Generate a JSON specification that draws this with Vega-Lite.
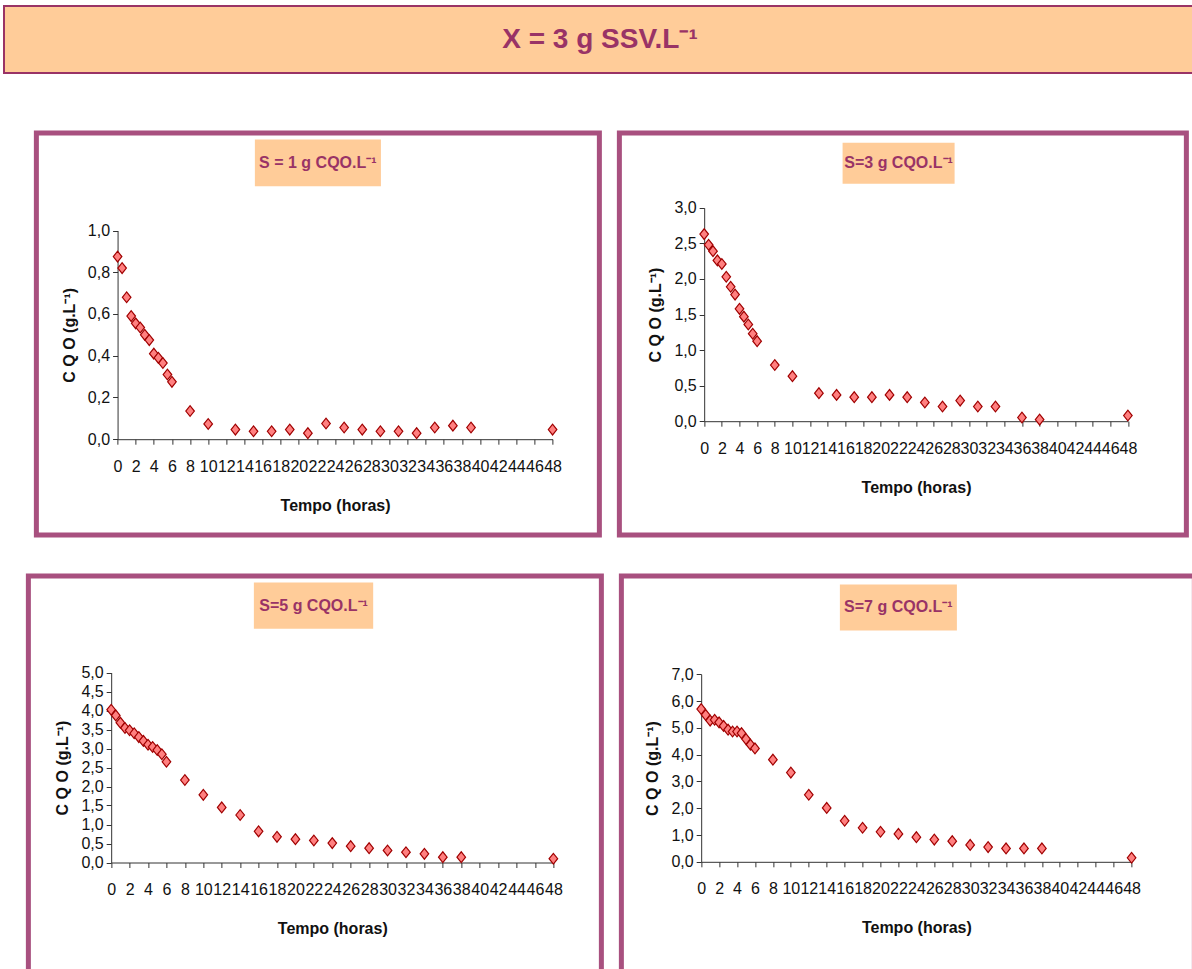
{
  "$schema": "https://vega.github.io/schema/vega-lite/v6.json",
  "background": "white",
  "padding": {"left": 3, "top": 5, "right": 0, "bottom": 0},
  "autosize": {"type": "pad"},
  "spacing": 56,
  "center": true,
  "datasets": {
    "s1": [
      {"t": 0, "cqo": 0.875}, {"t": 0.5, "cqo": 0.82}, {"t": 1, "cqo": 0.68}, {"t": 1.5, "cqo": 0.59},
      {"t": 2, "cqo": 0.555}, {"t": 2.5, "cqo": 0.535}, {"t": 3, "cqo": 0.5}, {"t": 3.5, "cqo": 0.475},
      {"t": 4, "cqo": 0.41}, {"t": 4.5, "cqo": 0.39}, {"t": 5, "cqo": 0.365}, {"t": 5.5, "cqo": 0.31},
      {"t": 6, "cqo": 0.275}, {"t": 8, "cqo": 0.135}, {"t": 10, "cqo": 0.073}, {"t": 13, "cqo": 0.046},
      {"t": 15, "cqo": 0.038}, {"t": 17, "cqo": 0.038}, {"t": 19, "cqo": 0.046}, {"t": 21, "cqo": 0.029},
      {"t": 23, "cqo": 0.075}, {"t": 25, "cqo": 0.056}, {"t": 27, "cqo": 0.046}, {"t": 29, "cqo": 0.038},
      {"t": 31, "cqo": 0.038}, {"t": 33, "cqo": 0.029}, {"t": 35, "cqo": 0.056}, {"t": 37, "cqo": 0.065},
      {"t": 39, "cqo": 0.056}, {"t": 48, "cqo": 0.046}
    ],
    "s3": [
      {"t": 0, "cqo": 2.63}, {"t": 0.5, "cqo": 2.48}, {"t": 1, "cqo": 2.39}, {"t": 1.5, "cqo": 2.26},
      {"t": 2, "cqo": 2.21}, {"t": 2.5, "cqo": 2.03}, {"t": 3, "cqo": 1.89}, {"t": 3.5, "cqo": 1.78},
      {"t": 4, "cqo": 1.58}, {"t": 4.5, "cqo": 1.47}, {"t": 5, "cqo": 1.36}, {"t": 5.5, "cqo": 1.23},
      {"t": 6, "cqo": 1.125}, {"t": 8, "cqo": 0.79}, {"t": 10, "cqo": 0.633}, {"t": 13, "cqo": 0.394},
      {"t": 15, "cqo": 0.37}, {"t": 17, "cqo": 0.338}, {"t": 19, "cqo": 0.338}, {"t": 21, "cqo": 0.37},
      {"t": 23, "cqo": 0.338}, {"t": 25, "cqo": 0.263}, {"t": 27, "cqo": 0.206}, {"t": 29, "cqo": 0.29},
      {"t": 31, "cqo": 0.206}, {"t": 33, "cqo": 0.206}, {"t": 36, "cqo": 0.052}, {"t": 38, "cqo": 0.023},
      {"t": 48, "cqo": 0.08}
    ],
    "s5": [
      {"t": 0, "cqo": 4.02}, {"t": 0.5, "cqo": 3.87}, {"t": 1, "cqo": 3.68}, {"t": 1.5, "cqo": 3.54},
      {"t": 2, "cqo": 3.48}, {"t": 2.5, "cqo": 3.4}, {"t": 3, "cqo": 3.3}, {"t": 3.5, "cqo": 3.2},
      {"t": 4, "cqo": 3.1}, {"t": 4.5, "cqo": 3.04}, {"t": 5, "cqo": 2.96}, {"t": 5.5, "cqo": 2.85},
      {"t": 6, "cqo": 2.65}, {"t": 8, "cqo": 2.17}, {"t": 10, "cqo": 1.78}, {"t": 12, "cqo": 1.45},
      {"t": 14, "cqo": 1.25}, {"t": 16, "cqo": 0.82}, {"t": 18, "cqo": 0.675}, {"t": 20, "cqo": 0.614},
      {"t": 22, "cqo": 0.58}, {"t": 24, "cqo": 0.51}, {"t": 26, "cqo": 0.43}, {"t": 28, "cqo": 0.377},
      {"t": 30, "cqo": 0.316}, {"t": 32, "cqo": 0.27}, {"t": 34, "cqo": 0.228}, {"t": 36, "cqo": 0.14},
      {"t": 38, "cqo": 0.14}, {"t": 48, "cqo": 0.1}
    ],
    "s7": [
      {"t": 0, "cqo": 5.7}, {"t": 0.5, "cqo": 5.48}, {"t": 1, "cqo": 5.27}, {"t": 1.5, "cqo": 5.3},
      {"t": 2, "cqo": 5.2}, {"t": 2.5, "cqo": 5.07}, {"t": 3, "cqo": 4.93}, {"t": 3.5, "cqo": 4.86},
      {"t": 4, "cqo": 4.86}, {"t": 4.5, "cqo": 4.8}, {"t": 5, "cqo": 4.58}, {"t": 5.5, "cqo": 4.37},
      {"t": 6, "cqo": 4.23}, {"t": 8, "cqo": 3.81}, {"t": 10, "cqo": 3.33}, {"t": 12, "cqo": 2.5},
      {"t": 14, "cqo": 2.01}, {"t": 16, "cqo": 1.53}, {"t": 18, "cqo": 1.27}, {"t": 20, "cqo": 1.12},
      {"t": 22, "cqo": 1.04}, {"t": 24, "cqo": 0.92}, {"t": 26, "cqo": 0.83}, {"t": 28, "cqo": 0.77},
      {"t": 30, "cqo": 0.63}, {"t": 32, "cqo": 0.55}, {"t": 34, "cqo": 0.5}, {"t": 36, "cqo": 0.5},
      {"t": 38, "cqo": 0.5}, {"t": 48, "cqo": 0.15}
    ]
  },
  "vconcat": [
    {
      "width": 1216,
      "height": 67,
      "view": {"fill": "#FFCC99", "stroke": "#993366", "strokeWidth": 2},
      "data": {"values": [{"title": "X = 3 g SSV.L⁻¹"}]},
      "mark": {"type": "text", "font": "Liberation Sans", "fontWeight": "bold", "fontSize": 28, "color": "#993366", "dx": -12, "align": "center", "baseline": "middle"},
      "encoding": {"text": {"field": "title"}}
    },
    {
      "spacing": 35,
      "center": true,
      "vconcat": [
        {
          "spacing": 14,
          "hconcat": [
            {
              "width": 563,
              "height": 402,
              "view": {"fill": "white", "stroke": "#A8507F", "strokeWidth": 5},
              "layer": [
                {
                  "data": {"name": "s1"},
                  "mark": {"type": "point", "shape": "M-0.8,0L0,-1L0.8,0L0,1Z", "filled": true, "fill": "#FF8080", "stroke": "#A00000", "strokeWidth": 1.2, "size": 115, "opacity": 1},
                  "encoding": {
                    "x": {"field": "t", "type": "quantitative",
                      "scale": {"domain": [0, 48], "range": [81.2, 516.2], "nice": false, "zero": false},
                      "axis": {"title": "Tempo (horas)", "offset": -95.8, "labelOverlap": false, "labelFlush": false, "tickCount": 25, "values": [0,2,4,6,8,10,12,14,16,18,20,22,24,26,28,30,32,34,36,38,40,42,44,46,48]}},
                    "y": {"field": "cqo", "type": "quantitative",
                      "scale": {"domain": [0, 1], "range": [306.2, 97.5], "nice": false},
                      "axis": {"title": "C Q O  (g.L⁻¹)", "offset": -81.2, "labelOverlap": false, "values": [0,0.2,0.4,0.6,0.8,1.0]}}
                  }
                },
                {
                  "data": {"values": [{"label": "S = 1 g CQO.L⁻¹"}]},
                  "mark": {"type": "rect", "fill": "#FFCC99"},
                  "encoding": {
                    "x": {"datum": 15.15, "type": "quantitative"}, "x2": {"datum": 29.06},
                    "y": {"datum": 1.436, "type": "quantitative"}, "y2": {"datum": 1.212}
                  }
                },
                {
                  "data": {"values": [{"label": "S = 1 g CQO.L⁻¹"}]},
                  "mark": {"type": "text", "font": "Liberation Sans", "fontWeight": "bold", "fontSize": 16, "color": "#993366", "align": "center", "baseline": "middle"},
                  "encoding": {
                    "x": {"datum": 22.1, "type": "quantitative"},
                    "y": {"datum": 1.324, "type": "quantitative"},
                    "text": {"field": "label"}
                  }
                }
              ]
            },
            {
              "width": 567,
              "height": 402,
              "view": {"fill": "white", "stroke": "#A8507F", "strokeWidth": 5},
              "layer": [
                {
                  "data": {"name": "s3"},
                  "mark": {"type": "point", "shape": "M-0.8,0L0,-1L0.8,0L0,1Z", "filled": true, "fill": "#FF8080", "stroke": "#A00000", "strokeWidth": 1.2, "size": 115, "opacity": 1},
                  "encoding": {
                    "x": {"field": "t", "type": "quantitative",
                      "scale": {"domain": [0, 48], "range": [84.8, 508.5], "nice": false, "zero": false},
                      "axis": {"title": "Tempo (horas)", "offset": -113.8, "labelOverlap": false, "labelFlush": false, "tickCount": 25, "values": [0,2,4,6,8,10,12,14,16,18,20,22,24,26,28,30,32,34,36,38,40,42,44,46,48]}},
                    "y": {"field": "cqo", "type": "quantitative",
                      "scale": {"domain": [0, 3], "range": [288.2, 74.8], "nice": false},
                      "axis": {"title": "C Q O  (g.L⁻¹)", "offset": -84.8, "labelOverlap": false, "values": [0,0.5,1,1.5,2,2.5,3]}}
                  }
                },
                {
                  "data": {"values": [{"label": "S=3 g CQO.L⁻¹"}]},
                  "mark": {"type": "rect", "fill": "#FFCC99"},
                  "encoding": {
                    "x": {"datum": 15.68, "type": "quantitative"}, "x2": {"datum": 28.37},
                    "y": {"datum": 3.914, "type": "quantitative"}, "y2": {"datum": 3.338}
                  }
                },
                {
                  "data": {"values": [{"label": "S=3 g CQO.L⁻¹"}]},
                  "mark": {"type": "text", "font": "Liberation Sans", "fontWeight": "bold", "fontSize": 16, "color": "#993366", "align": "center", "baseline": "middle"},
                  "encoding": {
                    "x": {"datum": 22.02, "type": "quantitative"},
                    "y": {"datum": 3.626, "type": "quantitative"},
                    "text": {"field": "label"}
                  }
                }
              ]
            }
          ]
        },
        {
          "spacing": 14,
          "hconcat": [
            {
              "width": 573,
              "height": 402,
              "view": {"fill": "white", "stroke": "#A8507F", "strokeWidth": 5},
              "layer": [
                {
                  "data": {"name": "s5"},
                  "mark": {"type": "point", "shape": "M-0.8,0L0,-1L0.8,0L0,1Z", "filled": true, "fill": "#FF8080", "stroke": "#A00000", "strokeWidth": 1.2, "size": 115, "opacity": 1},
                  "encoding": {
                    "x": {"field": "t", "type": "quantitative",
                      "scale": {"domain": [0, 48], "range": [82.8, 525], "nice": false, "zero": false},
                      "axis": {"title": "Tempo (horas)", "offset": -115.5, "labelOverlap": false, "labelFlush": false, "tickCount": 25, "values": [0,2,4,6,8,10,12,14,16,18,20,22,24,26,28,30,32,34,36,38,40,42,44,46,48]}},
                    "y": {"field": "cqo", "type": "quantitative",
                      "scale": {"domain": [0, 5], "range": [286.5, 96.5], "nice": false},
                      "axis": {"title": "C Q O  (g.L⁻¹)", "offset": -82.8, "labelOverlap": false, "values": [0,0.5,1,1.5,2,2.5,3,3.5,4,4.5,5]}}
                  }
                },
                {
                  "data": {"values": [{"label": "S=5 g CQO.L⁻¹"}]},
                  "mark": {"type": "rect", "fill": "#FFCC99"},
                  "encoding": {
                    "x": {"datum": 15.49, "type": "quantitative"}, "x2": {"datum": 28.44},
                    "y": {"datum": 7.368, "type": "quantitative"}, "y2": {"datum": 6.15}
                  }
                },
                {
                  "data": {"values": [{"label": "S=5 g CQO.L⁻¹"}]},
                  "mark": {"type": "text", "font": "Liberation Sans", "fontWeight": "bold", "fontSize": 16, "color": "#993366", "align": "center", "baseline": "middle"},
                  "encoding": {
                    "x": {"datum": 21.97, "type": "quantitative"},
                    "y": {"datum": 6.759, "type": "quantitative"},
                    "text": {"field": "label"}
                  }
                }
              ]
            },
            {
              "width": 573,
              "height": 402,
              "view": {"fill": "white", "stroke": "#A8507F", "strokeWidth": 5},
              "layer": [
                {
                  "data": {"name": "s7"},
                  "mark": {"type": "point", "shape": "M-0.8,0L0,-1L0.8,0L0,1Z", "filled": true, "fill": "#FF8080", "stroke": "#A00000", "strokeWidth": 1.2, "size": 115, "opacity": 1},
                  "encoding": {
                    "x": {"field": "t", "type": "quantitative",
                      "scale": {"domain": [0, 48], "range": [79.8, 510.2], "nice": false, "zero": false},
                      "axis": {"title": "Tempo (horas)", "offset": -116.2, "labelOverlap": false, "labelFlush": false, "tickCount": 25, "values": [0,2,4,6,8,10,12,14,16,18,20,22,24,26,28,30,32,34,36,38,40,42,44,46,48]}},
                    "y": {"field": "cqo", "type": "quantitative",
                      "scale": {"domain": [0, 7], "range": [285.8, 98.2], "nice": false},
                      "axis": {"title": "C Q O  (g.L⁻¹)", "offset": -79.8, "labelOverlap": false, "values": [0,1,2,3,4,5,6,7]}}
                  }
                },
                {
                  "data": {"values": [{"label": "S=7 g CQO.L⁻¹"}]},
                  "mark": {"type": "rect", "fill": "#FFCC99"},
                  "encoding": {
                    "x": {"datum": 15.47, "type": "quantitative"}, "x2": {"datum": 28.52},
                    "y": {"datum": 10.347, "type": "quantitative"}, "y2": {"datum": 8.631}
                  }
                },
                {
                  "data": {"values": [{"label": "S=7 g CQO.L⁻¹"}]},
                  "mark": {"type": "text", "font": "Liberation Sans", "fontWeight": "bold", "fontSize": 16, "color": "#993366", "align": "center", "baseline": "middle"},
                  "encoding": {
                    "x": {"datum": 21.99, "type": "quantitative"},
                    "y": {"datum": 9.489, "type": "quantitative"},
                    "text": {"field": "label"}
                  }
                }
              ]
            }
          ]
        }
      ]
    }
  ],
  "config": {
    "axis": {
      "grid": false,
      "domainColor": "#333333",
      "tickColor": "#333333",
      "domainWidth": 1,
      "tickWidth": 1,
      "tickSize": 5,
      "labelFont": "Liberation Sans",
      "labelFontSize": 16,
      "labelColor": "#111111",
      "titleFont": "Liberation Sans",
      "titleFontSize": 16,
      "titleFontWeight": "bold",
      "titleColor": "#111111",
      "labelOverlap": false,
      "labelFlush": false,
      "labelBound": false
    },
    "axisX": {"labelPadding": 14, "titlePadding": 23},
    "axisY": {"labelPadding": 3, "titlePadding": 10, "labelExpr": "replace(format(datum.value, '.1f'), '.', ',')"}
  }
}
